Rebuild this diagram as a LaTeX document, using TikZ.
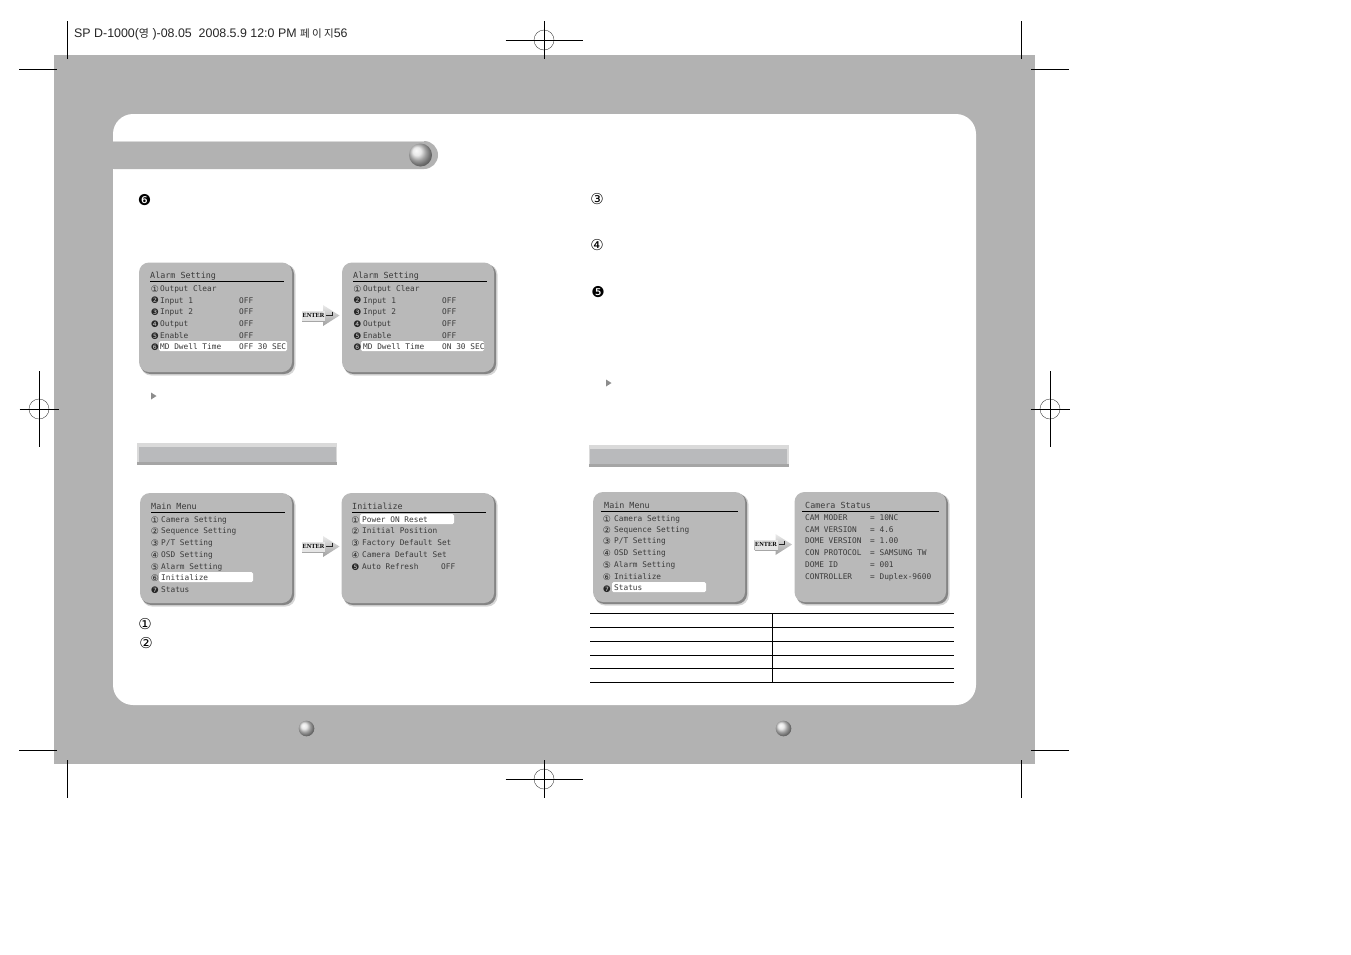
\documentclass[tikz,border=0pt]{standalone}
\usepackage{fontspec}
\setmainfont{Liberation Sans}
\newfontfamily\osdfont{DejaVu Sans Mono}
\newfontfamily\glyphfont{DejaVu Sans}
\newfontfamily\cjkfont{Noto Sans CJK KR}
\newfontfamily\enterfont{Liberation Serif}
\definecolor{pagegray}{HTML}{B2B2B2}
\definecolor{panelgray}{HTML}{B9B9B9}
\definecolor{panelshadow}{HTML}{858585}
\definecolor{panelhalo}{HTML}{D6D6D6}
\definecolor{osdtext}{HTML}{3A3A3A}
\definecolor{barfill}{HTML}{B9BABC}
\definecolor{barlight}{HTML}{DADADA}
\definecolor{bardark}{HTML}{A5A5A5}
\newcounter{itemno}
\tikzset{
  x=1pt,y=-1pt,
  panelbox/.style={fill=panelgray,rounded corners=10pt},
  panelback/.style={fill=panelshadow,rounded corners=10pt},
  panelglow/.style={fill=panelhalo,rounded corners=10pt},
  cropline/.style={draw=black,line width=0.9pt},
  regcircle/.style={draw=black!75,line width=0.4pt},
  osd/.style={inner sep=0pt,anchor=base west,text=osdtext,font=\osdfont\fontsize{7.8}{9}\selectfont},
  osdtitle/.style={osd,font=\osdfont\fontsize{8.4}{10}\selectfont},
  numsmall/.style={inner sep=0pt,anchor=center,text=black!85,font=\glyphfont\fontsize{9}{9}\selectfont},
  numbig/.style={inner sep=0pt,anchor=center,text=black,font=\glyphfont\fontsize{15}{15}\selectfont},
  sphere/.style={ball color=black!12,draw=none},
  tabline/.style={draw=black,line width=0.8pt},
}
\newcommand{\panelat}[4]{%
  \path[panelglow] (#1+2,#2+2) rectangle (#3+3.5,#4+3.5);
  \path[panelback] (#1+1.5,#2+1.5) rectangle (#3+2,#4+2);
  \path[panelbox] (#1,#2) rectangle (#3,#4);}
\newcommand{\txt}[3]{\stepcounter{itemno}\node[osd] (t\arabic{itemno}) at (#1,#2+3) {#3};}
\newcommand{\ttl}[3]{\stepcounter{itemno}\node[osdtitle] (t\arabic{itemno}) at (#1,#2+3) {#3};}
\newcommand{\numo}[3]{\stepcounter{itemno}\node[numsmall] (t\arabic{itemno}) at (#1,#2) {#3};}
\newcommand{\numb}[3]{\stepcounter{itemno}\node[numbig] (t\arabic{itemno}) at (#1,#2) {#3};}
\newcommand{\hilite}[4]{\fill[white,rounded corners=1.5pt] (#1,#2) rectangle (#3,#4);}
\newcommand{\rulel}[3]{\draw[black,line width=0.8pt] (#1,#3) -- (#2,#3);}
\newcommand{\enterarrow}[2]{%
  \begin{scope}[shift={(#1,#2)}]
    \shade[top color=white!92!black,bottom color=black!38]
      (0,6) -- (21,6) -- (21,0) -- (37.5,10.5) -- (21,21) -- (21,16) -- (0,16) -- cycle;
    \fill[black!10] (0,6) rectangle (23,16);
    \fill[black!35] (0,15.5) rectangle (23,17);
    \stepcounter{itemno}
    \node[inner sep=0pt,anchor=west,text=black,font=\enterfont\bfseries\fontsize{6.3}{7}\selectfont] (t\arabic{itemno}) at (0.5,10.8) {ENTER};
    \draw[black!85,line width=0.7pt] (24,10.7) -- (30,10.7) -- (30,7);
  \end{scope}}
\newcommand{\regmarkh}[2]{%
  \draw[regcircle] (#1,#2) circle (10);
  \draw[cropline] (#1-38.5,#2) -- (#1+38.5,#2);
  \draw[cropline] (#1,#2-19) -- (#1,#2+19);}
\newcommand{\regmarkv}[2]{%
  \draw[regcircle] (#1,#2) circle (10);
  \draw[cropline] (#1-19.5,#2) -- (#1+19.5,#2);
  \draw[cropline] (#1,#2-38) -- (#1,#2+38);}
\newcommand{\sectionbar}[2]{%
  \fill[barlight] (#1,#2) rectangle (#1+200,#2+22);
  \fill[barfill] (#1+1.5,#2+3.5) rectangle (#1+198.5,#2+19);
  \fill[bardark] (#1,#2+19) rectangle (#1+200,#2+22);}
\newcommand{\smalltri}[2]{\fill[black!45] (#1,#2) -- (#1+5.5,#2+3.5) -- (#1,#2+7) -- cycle;}
\begin{document}
\begin{tikzpicture}
\useasboundingbox (0,0) rectangle (1351,954);
\fill[white] (0,0) rectangle (1351,954);
% page
\fill[pagegray] (54,55) rectangle (1035,764);
\fill[white,rounded corners=20pt] (113,114) rectangle (976,705);
\fill[pagegray,rounded corners=14pt] (100,141) rectangle (438,169);
\fill[pagegray] (100,141) rectangle (113,169);
\draw[white!85!black,line width=0.6pt] (113,141) -- (424,141);
\shade[sphere] (420.5,155) circle (11.5);
\shade[sphere] (306.5,728.5) circle (7.8);
\shade[sphere] (783.5,728.5) circle (7.8);
% crop marks
\node[inner sep=0pt,anchor=base west,text=black!85,font=\fontsize{12.4}{14}\selectfont] (slug) at (74,37)
  {SP D-1000({\cjkfont\fontsize{11}{14}\selectfont 영} )-08.05\ \ 2008.5.9 12:0 PM {\cjkfont\fontsize{10.5}{14}\selectfont 페 이 지}56};
\draw[cropline] (67,21) -- (67,59);
\draw[cropline] (19,69) -- (57,69);
\draw[cropline] (1021,21) -- (1021,59);
\draw[cropline] (1031,69) -- (1069,69);
\draw[cropline] (67,760) -- (67,798);
\draw[cropline] (19,750) -- (57,750);
\draw[cropline] (1021,760) -- (1021,798);
\draw[cropline] (1031,750) -- (1069,750);
\regmarkh{544}{40}
\regmarkh{544}{779}
\regmarkv{39}{409}
\regmarkv{1050}{409}
% large markers
\numb{144.5}{200}{❻}
\numb{597}{199}{③}
\numb{597}{245}{④}
\numb{598}{292}{❺}
\numb{145}{624}{①}
\numb{146}{643}{②}
\smalltri{151}{392.5}
\smalltri{606}{379.5}
% section bars
\sectionbar{137}{443}
\sectionbar{588.5}{445}
% panel A
\panelat{139}{262.5}{292}{372}
\hilite{159}{341}{287}{351}
\ttl{150}{275}{Alarm Setting}
\rulel{150}{284}{281.5}
\numo{155}{289}{①}\txt{160}{288}{Output Clear}
\numo{155}{300.5}{❷}\txt{160}{300}{Input 1}\txt{239}{300}{OFF}
\numo{155}{312}{❸}\txt{160}{311}{Input 2}\txt{239}{311}{OFF}
\numo{155}{324}{❹}\txt{160}{323}{Output}\txt{239}{323}{OFF}
\numo{155}{336}{❺}\txt{160}{335}{Enable}\txt{239}{335}{OFF}
\numo{155}{347.5}{❻}\txt{160}{346}{MD Dwell Time}\txt{239}{346}{OFF 30 SEC}
% panel B
\panelat{342}{262.5}{494}{372}
\hilite{361}{341}{484}{351}
\ttl{353}{275}{Alarm Setting}
\rulel{353}{487}{281.5}
\numo{357.5}{289}{①}\txt{363}{288}{Output Clear}
\numo{357.5}{300.5}{❷}\txt{363}{300}{Input 1}\txt{442}{300}{OFF}
\numo{357.5}{312}{❸}\txt{363}{311}{Input 2}\txt{442}{311}{OFF}
\numo{357.5}{324}{❹}\txt{363}{323}{Output}\txt{442}{323}{OFF}
\numo{357.5}{336}{❺}\txt{363}{335}{Enable}\txt{442}{335}{OFF}
\numo{357.5}{347.5}{❻}\txt{363}{346}{MD Dwell Time}\txt{442}{346}{ON 30 SEC}
\enterarrow{302}{305}
% panel C
\panelat{140}{493}{292}{603}
\hilite{159}{572}{253}{582}
\ttl{151}{506}{Main Menu}
\rulel{151}{285}{512.5}
\numo{155}{520.5}{①}\txt{161}{519.5}{Camera Setting}
\numo{155}{531.5}{②}\txt{161}{530.5}{Sequence Setting}
\numo{155}{543.5}{③}\txt{161}{542.5}{P/T Setting}
\numo{155}{555.5}{④}\txt{161}{554.5}{OSD Setting}
\numo{155}{567}{⑤}\txt{161}{566}{Alarm Setting}
\numo{155}{578.5}{⑥}\txt{161}{577.5}{Initialize}
\numo{155}{590.5}{❼}\txt{161}{589.5}{Status}
% panel D
\panelat{341.5}{493}{494}{603}
\hilite{360}{514}{454}{524}
\ttl{352}{506}{Initialize}
\rulel{352}{486}{512.5}
\numo{355.5}{520.5}{①}\txt{362}{519.5}{Power ON Reset}
\numo{355.5}{531.5}{②}\txt{362}{530.5}{Initial Position}
\numo{355.5}{543.5}{③}\txt{362}{542.5}{Factory Default Set}
\numo{355.5}{555.5}{④}\txt{362}{554}{Camera Default Set}
\numo{355.5}{567}{❺}\txt{362}{566}{Auto Refresh}\txt{441}{566}{OFF}
\enterarrow{302}{536}
% panel E
\panelat{593}{492}{745}{602}
\hilite{612}{582}{706}{592}
\ttl{604}{505}{Main Menu}
\rulel{601}{738}{511.5}
\numo{607}{519}{①}\txt{614}{518}{Camera Setting}
\numo{607}{530.5}{②}\txt{614}{529.5}{Sequence Setting}
\numo{607}{541.5}{③}\txt{614}{540.5}{P/T Setting}
\numo{607}{553.5}{④}\txt{614}{552.5}{OSD Setting}
\numo{607}{565.5}{⑤}\txt{614}{564.5}{Alarm Setting}
\numo{607}{577}{⑥}\txt{614}{576.5}{Initialize}
\numo{607}{589.5}{❼}\txt{614}{587.5}{Status}
% panel F
\panelat{794.5}{492}{946}{602}
\ttl{805}{505}{Camera Status}
\rulel{802}{939}{511.5}
\txt{805}{517.5}{CAM MODER}\txt{870}{517.5}{= 10NC}
\txt{805}{529}{CAM VERSION}\txt{870}{529}{= 4.6}
\txt{805}{540}{DOME VERSION}\txt{870}{540}{= 1.00}
\txt{805}{552}{CON PROTOCOL}\txt{870}{552}{= SAMSUNG TW}
\txt{805}{564}{DOME ID}\txt{870}{564}{= 001}
\txt{805}{576}{CONTROLLER}\txt{870}{576}{= Duplex-9600}
\enterarrow{754.5}{534}
% table
\draw[tabline] (590,613.5) -- (954,613.5);
\draw[tabline] (590,627.5) -- (954,627.5);
\draw[tabline] (590,641.5) -- (954,641.5);
\draw[tabline] (590,655.5) -- (954,655.5);
\draw[tabline] (590,668.5) -- (954,668.5);
\draw[tabline] (590,682.5) -- (954,682.5);
\draw[tabline] (772.5,613.5) -- (772.5,682.5);
\end{tikzpicture}
\end{document}
